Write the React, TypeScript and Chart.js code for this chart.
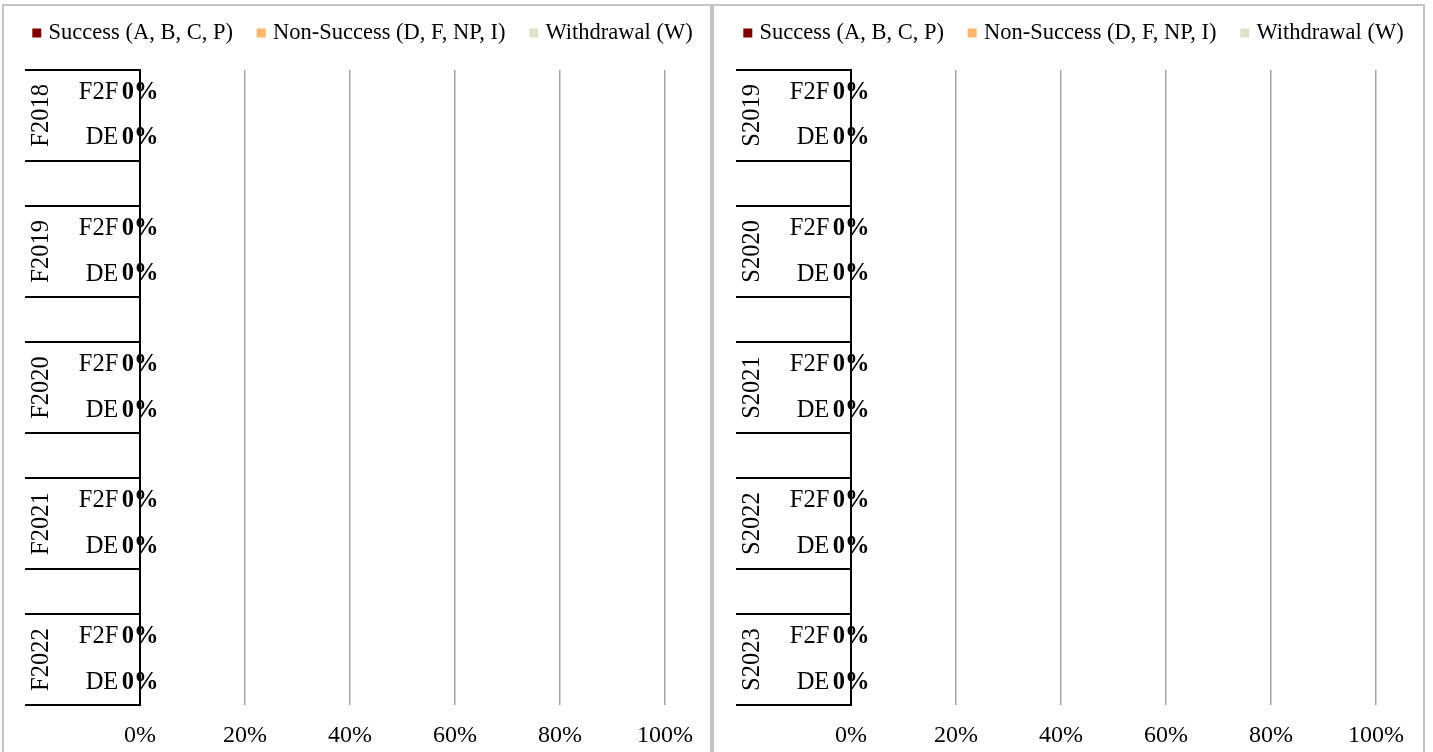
import React, { useEffect, useRef } from 'react';
import { Chart, registerables } from 'chart.js';

Chart.register(...registerables);

const SERIF = "'Liberation Serif', 'Times New Roman', serif";

// ---- data ----
const fallTerms = ['F2018', 'F2019', 'F2020', 'F2021', 'F2022'];
const springTerms = ['S2019', 'S2020', 'S2021', 'S2022', 'S2023'];
const modes = ['F2F', 'DE'];

// values per term as [F2F, DE] pairs (share of students, 0..1)
const fallSuccess = [0, 0, 0, 0, 0, 0, 0, 0, 0, 0];
const fallNonSuccess = [0, 0, 0, 0, 0, 0, 0, 0, 0, 0];
const fallWithdrawal = [0, 0, 0, 0, 0, 0, 0, 0, 0, 0];

const springSuccess = [0, 0, 0, 0, 0, 0, 0, 0, 0, 0];
const springNonSuccess = [0, 0, 0, 0, 0, 0, 0, 0, 0, 0];
const springWithdrawal = [0, 0, 0, 0, 0, 0, 0, 0, 0, 0];

const seriesNames = ['Success (A, B, C, P)', 'Non-Success (D, F, NP, I)', 'Withdrawal (W)'];
const seriesColors = ['#7f0000', '#ffb56b', '#dde2c9'];
const xTickLabels = ['0%', '20%', '40%', '60%', '80%', '100%'];

// ---- helpers ----
function buildLabels(terms: string[]): string[] {
  const out: string[] = [];
  terms.forEach((_, t) => {
    if (t > 0) out.push('');
    modes.forEach((m) => out.push(m));
  });
  return out;
}

function withSpacers(values: number[], nTerms: number): (number | null)[] {
  const out: (number | null)[] = [];
  for (let t = 0; t < nTerms; t++) {
    if (t > 0) out.push(null);
    for (let m = 0; m < modes.length; m++) out.push(values[t * modes.length + m]);
  }
  return out;
}

const ROW_STEP = modes.length + 1;
const CANVAS_W = 740;
const CANVAS_H = 762;
const CANVAS_TOP = -10;

type PanelProps = {
  left: number;
  terms: string[];
  success: number[];
  nonSuccess: number[];
  withdrawal: number[];
};

function Panel({ left, terms, success, nonSuccess, withdrawal }: PanelProps) {
  const ref = useRef<HTMLCanvasElement | null>(null);

  useEffect(() => {
    const canvas = ref.current;
    if (!canvas) return;
    const labels = buildLabels(terms);
    const n = terms.length;
    const seriesValues = [success, nonSuccess, withdrawal];

    const groupLabels = {
      id: 'groupLabels',
      afterDraw(chart: any) {
        const y = chart.scales.y;
        const ctx = chart.ctx;
        ctx.save();
        ctx.font = `24.5px ${SERIF}`;
        ctx.fillStyle = '#000';
        ctx.textAlign = 'center';
        ctx.textBaseline = 'middle';
        terms.forEach((term, t) => {
          const first = t * ROW_STEP;
          const last = first + modes.length - 1;
          const yc = (y.getPixelForValue(first) + y.getPixelForValue(last)) / 2;
          const x = y.right - 98.3;
          ctx.save();
          ctx.translate(x, yc);
          ctx.rotate(-Math.PI / 2);
          ctx.fillText(term, 0, 0);
          ctx.restore();
        });
        ctx.restore();
      },
    };

    const dataLabels = {
      id: 'dataLabels',
      afterDatasetsDraw(chart: any) {
        const ctx = chart.ctx;
        const meta = chart.getDatasetMeta(0);
        const data = chart.data.datasets[0].data as (number | null)[];
        ctx.save();
        ctx.font = `bold 24.5px ${SERIF}`;
        ctx.fillStyle = '#000';
        ctx.textAlign = 'center';
        ctx.textBaseline = 'middle';
        meta.data.forEach((el: any, i: number) => {
          const v = data[i];
          if (v === null || v === undefined) return;
          const p = el.getCenterPoint();
          ctx.fillText(`${Math.round(v * 100)}%`, p.x, p.y);
        });
        ctx.restore();
      },
    };

    const chart = new Chart(canvas, {
      type: 'bar',
      data: {
        labels,
        datasets: seriesValues.map((vals, i) => ({
          label: seriesNames[i],
          data: withSpacers(vals, n),
          backgroundColor: seriesColors[i],
          borderWidth: 0,
          xAxisID: 'x',
          yAxisID: 'y',
        })),
      },
      options: {
        indexAxis: 'y',
        responsive: false,
        animation: false,
        events: [],
        layout: { padding: { left: 8.55, top: 4, right: 0, bottom: 0 } },
        plugins: {
          tooltip: { enabled: false },
          legend: {
            display: true,
            position: 'top',
            align: 'start',
            labels: {
              font: { family: SERIF, size: 22.5 },
              color: '#000',
              usePointStyle: true,
              pointStyle: 'rect',
              boxWidth: 1,
              boxHeight: 9,
              padding: 27.75,
            },
          },
        },
        scales: {
          x: {
            type: 'linear',
            position: 'bottom',
            stacked: true,
            min: 0,
            max: 1,
            ticks: {
              stepSize: 0.2,
              font: { family: SERIF, size: 24, lineHeight: 1.2 },
              color: '#000',
              padding: 15.9,
              maxRotation: 0,
              callback: (_v: any, idx: number) => xTickLabels[idx],
            },
            grid: {
              drawTicks: false,
              lineWidth: 1.5,
              color: (c: any) => (c.index === 0 ? 'rgba(0,0,0,0)' : '#a3a3a3'),
            },
            border: { display: false },
            afterFit: (s: any) => {
              s.height = 47;
            },
          },
          y: {
            type: 'category',
            position: 'left',
            stacked: true,
            offset: true,
            ticks: {
              font: { family: SERIF, size: 24.5 },
              color: '#000',
              padding: 21.7 - 115,
              autoSkip: false,
            },
            grid: {
              display: true,
              offset: true,
              drawOnChartArea: false,
              drawTicks: true,
              tickLength: 115,
              lineWidth: 2,
              tickColor: (c: any) => (c.index % ROW_STEP === 1 ? 'rgba(0,0,0,0)' : '#000'),
            },
            border: { display: true, color: '#000', width: 2 },
            afterFit: (s: any) => {
              s.width = 140 - 8.55;
            },
          },
          xTop: {
            type: 'linear',
            position: 'top',
            display: true,
            grid: { display: false },
            ticks: { display: false },
            border: { display: false },
            afterFit: (s: any) => {
              s.height = 15.75;
            },
          },
          yRight: {
            type: 'linear',
            position: 'right',
            display: true,
            grid: { display: false },
            ticks: { display: false },
            border: { display: false },
            afterFit: (s: any) => {
              s.width = CANVAS_W - 665;
            },
          },
        },
      } as any,
      plugins: [groupLabels, dataLabels],
    });

    return () => {
      chart.destroy();
    };
  }, []);

  return (
    <canvas
      ref={ref}
      width={CANVAS_W}
      height={CANVAS_H}
      style={{ position: 'absolute', left, top: CANVAS_TOP, width: CANVAS_W, height: CANVAS_H }}
    />
  );
}

export default function App() {
  return (
    <div
      style={{
        position: 'fixed',
        left: 0,
        top: 0,
        width: 1433,
        height: 752,
        overflow: 'hidden',
        background: '#fff',
      }}
    >
      <div
        style={{
          position: 'absolute',
          left: 2,
          top: 4,
          width: 710,
          height: 800,
          boxSizing: 'border-box',
          border: '2px solid #c4c4c4',
        }}
      />
      <div
        style={{
          position: 'absolute',
          left: 712,
          top: 4,
          width: 713,
          height: 800,
          boxSizing: 'border-box',
          border: '2px solid #c4c4c4',
        }}
      />
      <Panel
        left={0}
        terms={fallTerms}
        success={fallSuccess}
        nonSuccess={fallNonSuccess}
        withdrawal={fallWithdrawal}
      />
      <Panel
        left={711}
        terms={springTerms}
        success={springSuccess}
        nonSuccess={springNonSuccess}
        withdrawal={springWithdrawal}
      />
    </div>
  );
}
